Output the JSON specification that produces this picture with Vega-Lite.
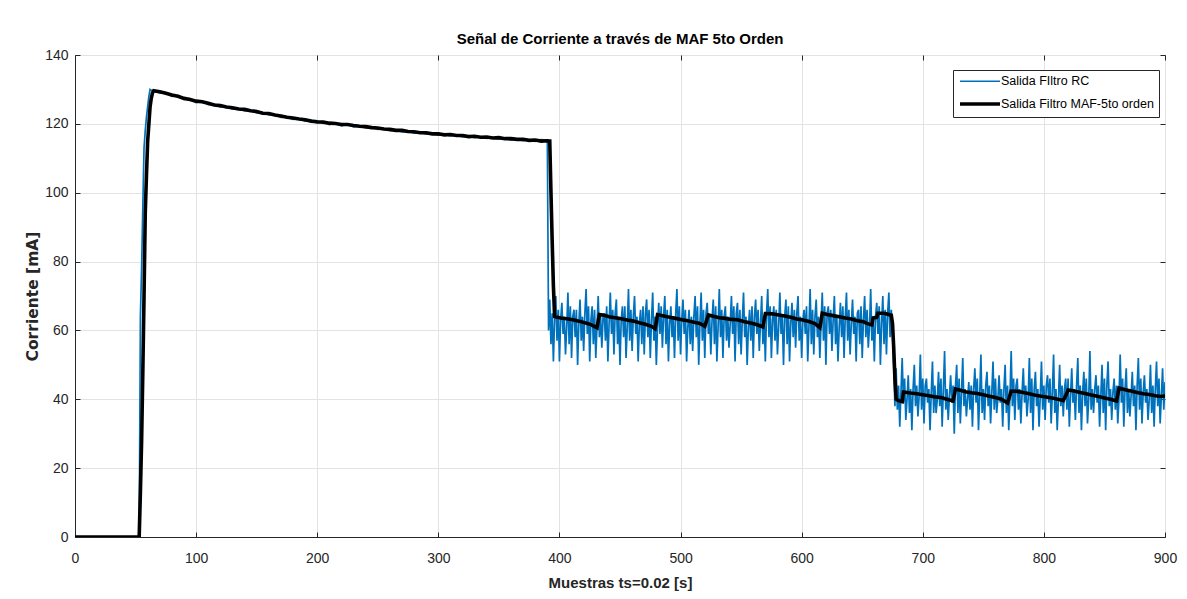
{
"$schema": "https://vega.github.io/schema/vega-lite/v6.json",
"width": 1090, "height": 482,
"autosize": {"type": "none"},
"padding": {"left": 75, "top": 55, "right": 22, "bottom": 62},
"background": "white",
"title": {"text": "Señal de Corriente a través de MAF 5to Orden", "font": "Liberation Sans, sans-serif", "fontSize": 15, "fontWeight": "bold", "color": "#000000", "anchor": "middle", "frame": "group", "offset": 1},
"config": {"view": {"stroke": "#262626", "strokeWidth": 1}},
"resolve": {"axis": {"x": "independent", "y": "independent"}},
"data": {"values": [
{"x":0,"r":0,"m":0},{"x":53,"r":0,"m":0},{"x":54,"r":64,"m":13},{"x":55,"r":78,"m":28},{"x":56,"r":96,"m":48},{"x":57,"r":113,"m":70},{"x":58,"r":118,"m":94},{"x":59,"r":122,"m":105},{"x":60,"r":125,"m":115},{"x":61,"r":128,"m":120},{"x":62,"r":130,"m":125},{"x":63,"r":129.8,"m":127.5},{"x":64,"r":129.6,"m":129},{"x":65,"r":129.5,"m":129.6},
{"x":70,"r":129.0,"m":129.3},{"x":75,"r":129.1,"m":128.9},{"x":80,"r":128.0,"m":128.4},{"x":85,"r":128.2,"m":128.0},{"x":90,"r":127.1,"m":127.4},{"x":95,"r":127.3,"m":127.1},{"x":100,"r":126.2,"m":126.6},{"x":105,"r":126.5,"m":126.4},{"x":110,"r":125.6,"m":126.0},{"x":115,"r":125.7,"m":125.5},{"x":120,"r":124.9,"m":125.3},{"x":125,"r":125.0,"m":124.9},{"x":130,"r":124.3,"m":124.7},{"x":135,"r":124.5,"m":124.3},{"x":140,"r":123.8,"m":124.2},{"x":145,"r":123.9,"m":123.8},{"x":150,"r":123.2,"m":123.6},{"x":155,"r":123.3,"m":123.1},{"x":160,"r":122.6,"m":123.0},{"x":165,"r":122.7,"m":122.6},{"x":170,"r":121.9,"m":122.3},{"x":175,"r":122.0,"m":121.9},{"x":180,"r":121.3,"m":121.7},{"x":185,"r":121.5,"m":121.4},{"x":190,"r":120.8,"m":121.2},{"x":195,"r":121.0,"m":120.8},{"x":200,"r":120.2,"m":120.6},{"x":205,"r":120.6,"m":120.5},{"x":210,"r":119.8,"m":120.2},{"x":215,"r":120.2,"m":120.1},{"x":220,"r":119.4,"m":119.8},{"x":225,"r":119.9,"m":119.8},{"x":230,"r":119.1,"m":119.5},{"x":235,"r":119.4,"m":119.3},{"x":240,"r":118.8,"m":119.2},{"x":245,"r":119.0,"m":118.9},{"x":250,"r":118.4,"m":118.8},{"x":255,"r":118.6,"m":118.5},{"x":260,"r":118.0,"m":118.4},{"x":265,"r":118.2,"m":118.1},{"x":270,"r":117.7,"m":118.1},{"x":275,"r":117.9,"m":117.8},{"x":280,"r":117.3,"m":117.7},{"x":285,"r":117.5,"m":117.4},{"x":290,"r":117.0,"m":117.4},{"x":295,"r":117.2,"m":117.1},{"x":300,"r":116.7,"m":117.1},{"x":305,"r":116.9,"m":116.8},{"x":310,"r":116.5,"m":116.9},{"x":315,"r":116.7,"m":116.6},{"x":320,"r":116.2,"m":116.6},{"x":325,"r":116.4,"m":116.3},{"x":330,"r":116.0,"m":116.4},{"x":335,"r":116.2,"m":116.1},{"x":340,"r":115.8,"m":116.2},{"x":345,"r":116.0,"m":115.9},{"x":350,"r":115.6,"m":116.0},{"x":355,"r":115.8,"m":115.7},{"x":360,"r":115.3,"m":115.7},{"x":365,"r":115.6,"m":115.5},{"x":370,"r":115.1,"m":115.5},{"x":375,"r":115.3,"m":115.2},{"x":380,"r":114.9,"m":115.3},{"x":385,"r":115.4,"m":115.0},{"x":390,"r":115.2,"m":115.1},
{"x":391,"r":60,"m":115.0},{"x":392,"r":69,"m":115},{"x":393,"r":56,"m":100},{"x":394,"r":65,"m":86},{"x":395,"r":51,"m":73},{"x":396,"r":63,"m":64},
{"x":397,"r":70},{"x":398,"r":57},{"x":399,"r":66},{"x":400,"r":51},{"x":401,"r":63,"m":63.6},
{"x":402,"r":68},{"x":403,"r":59},{"x":404,"r":64},{"x":405,"r":53},{"x":406,"r":61,"m":63.4},
{"x":407,"r":71},{"x":408,"r":56},{"x":409,"r":67},{"x":410,"r":52},{"x":411,"r":64,"m":63.1},
{"x":412,"r":66},{"x":413,"r":58},{"x":414,"r":66},{"x":415,"r":50},{"x":416,"r":62,"m":62.7},
{"x":417,"r":69},{"x":418,"r":57},{"x":419,"r":64},{"x":420,"r":54},{"x":421,"r":65,"m":62.2},
{"x":422,"r":72},{"x":423,"r":59},{"x":424,"r":67},{"x":425,"r":51},{"x":426,"r":63,"m":61.7},
{"x":427,"r":67},{"x":428,"r":56},{"x":429,"r":66},{"x":430,"r":52},{"x":431,"r":61,"m":60.8},
{"x":432,"r":70},{"x":433,"r":58,"m":64.6},{"x":434,"r":64},{"x":435,"r":55},{"x":436,"r":64},
{"x":437,"r":65,"m":64.4},{"x":438,"r":57},{"x":439,"r":67},{"x":440,"r":51},{"x":441,"r":62,"m":64.0},
{"x":442,"r":71},{"x":443,"r":59},{"x":444,"r":66},{"x":445,"r":53},{"x":446,"r":65,"m":63.7},
{"x":447,"r":69},{"x":448,"r":56},{"x":449,"r":64},{"x":450,"r":50},{"x":451,"r":63,"m":63.4},
{"x":452,"r":67},{"x":453,"r":58},{"x":454,"r":67},{"x":455,"r":52},{"x":456,"r":61,"m":63.0},
{"x":457,"r":72},{"x":458,"r":57},{"x":459,"r":66},{"x":460,"r":54},{"x":461,"r":64,"m":62.7},
{"x":462,"r":70},{"x":463,"r":59},{"x":464,"r":64},{"x":465,"r":51},{"x":466,"r":62,"m":62.2},
{"x":467,"r":66},{"x":468,"r":56},{"x":469,"r":67},{"x":470,"r":53},{"x":471,"r":65,"m":61.8},
{"x":472,"r":69},{"x":473,"r":58},{"x":474,"r":66},{"x":475,"r":52},{"x":476,"r":63,"m":61.2},
{"x":477,"r":71},{"x":478,"r":57},{"x":479,"r":64,"m":60.5},{"x":480,"r":50},{"x":481,"r":61,"m":64.6},
{"x":482,"r":68},{"x":483,"r":59},{"x":484,"r":67},{"x":485,"r":55},{"x":486,"r":64,"m":64.2},
{"x":487,"r":70},{"x":488,"r":56},{"x":489,"r":66},{"x":490,"r":51},{"x":491,"r":62,"m":63.8},
{"x":492,"r":67},{"x":493,"r":58},{"x":494,"r":64},{"x":495,"r":52},{"x":496,"r":65,"m":63.5},
{"x":497,"r":72},{"x":498,"r":57},{"x":499,"r":67},{"x":500,"r":53},{"x":501,"r":63,"m":63.1},
{"x":502,"r":69},{"x":503,"r":59},{"x":504,"r":66},{"x":505,"r":51},{"x":506,"r":61,"m":62.8},
{"x":507,"r":66},{"x":508,"r":56},{"x":509,"r":64},{"x":510,"r":54},{"x":511,"r":64,"m":62.4},
{"x":512,"r":70},{"x":513,"r":58},{"x":514,"r":67},{"x":515,"r":50},{"x":516,"r":62,"m":62.0},
{"x":517,"r":71},{"x":518,"r":57},{"x":519,"r":66},{"x":520,"r":52,"m":61.2},{"x":521,"r":65},
{"x":522,"r":68},{"x":523,"r":59,"m":64.5},{"x":524,"r":64},{"x":525,"r":53},{"x":526,"r":63},
{"x":527,"r":69,"m":64.1},{"x":528,"r":56},{"x":529,"r":67},{"x":530,"r":51},{"x":531,"r":61},
{"x":532,"r":72,"m":63.7},{"x":533,"r":58},{"x":534,"r":66},{"x":535,"r":52},{"x":536,"r":64},
{"x":537,"r":67,"m":63.5},{"x":538,"r":57},{"x":539,"r":64},{"x":540,"r":55},{"x":541,"r":62},
{"x":542,"r":70,"m":63.2},{"x":543,"r":59},{"x":544,"r":67},{"x":545,"r":51},{"x":546,"r":65},
{"x":547,"r":68,"m":63.1},{"x":548,"r":56},{"x":549,"r":66},{"x":550,"r":53},{"x":551,"r":63},
{"x":552,"r":71,"m":62.6},{"x":553,"r":58},{"x":554,"r":64},{"x":555,"r":50},{"x":556,"r":61},
{"x":557,"r":66,"m":62.2},{"x":558,"r":57},{"x":559,"r":67},{"x":560,"r":52},{"x":561,"r":64},
{"x":562,"r":69,"m":61.8},{"x":563,"r":59},{"x":564,"r":66},{"x":565,"r":54},{"x":566,"r":62,"m":61.3},
{"x":567,"r":70},{"x":568,"r":56,"m":61.0},{"x":569,"r":64},{"x":570,"r":51,"m":64.9},{"x":571,"r":65},
{"x":572,"r":72},{"x":573,"r":58},{"x":574,"r":67},{"x":575,"r":52},{"x":576,"r":63,"m":64.8},
{"x":577,"r":67},{"x":578,"r":57},{"x":579,"r":66},{"x":580,"r":53},{"x":581,"r":61,"m":64.5},
{"x":582,"r":71},{"x":583,"r":59},{"x":584,"r":64},{"x":585,"r":50},{"x":586,"r":64,"m":64.2},
{"x":587,"r":69},{"x":588,"r":56},{"x":589,"r":67},{"x":590,"r":51},{"x":591,"r":62,"m":63.8},
{"x":592,"r":68},{"x":593,"r":58},{"x":594,"r":66},{"x":595,"r":55},{"x":596,"r":65,"m":63.3},
{"x":597,"r":70},{"x":598,"r":57},{"x":599,"r":64},{"x":600,"r":52},{"x":601,"r":63,"m":63.0},
{"x":602,"r":66},{"x":603,"r":59},{"x":604,"r":67},{"x":605,"r":51},{"x":606,"r":61,"m":62.6},
{"x":607,"r":72},{"x":608,"r":56},{"x":609,"r":66},{"x":610,"r":53},{"x":611,"r":64,"m":62.0},
{"x":612,"r":69},{"x":613,"r":58},{"x":614,"r":64},{"x":615,"r":52,"m":60.8},{"x":616,"r":62},
{"x":617,"r":71,"m":65.0},{"x":618,"r":57},{"x":619,"r":67},{"x":620,"r":50},{"x":621,"r":65,"m":64.6},
{"x":622,"r":67},{"x":623,"r":59},{"x":624,"r":66},{"x":625,"r":54},{"x":626,"r":63,"m":64.3},
{"x":627,"r":70},{"x":628,"r":56},{"x":629,"r":64},{"x":630,"r":51},{"x":631,"r":61,"m":64.0},
{"x":632,"r":68},{"x":633,"r":58},{"x":634,"r":67},{"x":635,"r":52},{"x":636,"r":64,"m":63.6},
{"x":637,"r":71},{"x":638,"r":57},{"x":639,"r":66},{"x":640,"r":53},{"x":641,"r":62,"m":63.3},
{"x":642,"r":69},{"x":643,"r":59},{"x":644,"r":64},{"x":645,"r":51},{"x":646,"r":65,"m":62.8},
{"x":647,"r":66},{"x":648,"r":56},{"x":649,"r":67},{"x":650,"r":52},{"x":651,"r":63,"m":62.5},
{"x":652,"r":70},{"x":653,"r":58},{"x":654,"r":66},{"x":655,"r":55,"m":61.9},{"x":656,"r":61},
{"x":657,"r":72},{"x":658,"r":57,"m":61.6},{"x":659,"r":64,"m":63.6},{"x":660,"r":51},{"x":661,"r":64},
{"x":662,"r":68,"m":63.8},{"x":663,"r":59,"m":65.0},{"x":664,"r":67},{"x":665,"r":50},{"x":666,"r":62},
{"x":667,"r":70},{"x":668,"r":56,"m":65.0},{"x":669,"r":66},{"x":670,"r":53},{"x":671,"r":65},
{"x":672,"r":71,"m":64.6},{"x":673,"r":58},{"x":674,"r":66,"m":64.4},{"x":675,"r":60,"m":62.0},{"x":676,"r":50,"m":55},{"x":677,"r":38,"m":46},
{"x":678,"r":49,"m":40},{"x":679,"r":37},{"x":680,"r":44,"m":39.6},{"x":681,"r":32},{"x":682,"r":42},
{"x":683,"r":52,"m":39.3},{"x":684,"r":39,"m":42.1},{"x":685,"r":46},{"x":686,"r":34},{"x":687,"r":40},
{"x":688,"r":47},{"x":689,"r":36},{"x":690,"r":43,"m":41.8},{"x":691,"r":31},{"x":692,"r":43},
{"x":693,"r":50},{"x":694,"r":38},{"x":695,"r":44,"m":41.6},{"x":696,"r":35},{"x":697,"r":41},
{"x":698,"r":53},{"x":699,"r":37},{"x":700,"r":46,"m":41.3},{"x":701,"r":33},{"x":702,"r":44},
{"x":703,"r":46},{"x":704,"r":39},{"x":705,"r":43,"m":41.0},{"x":706,"r":31},{"x":707,"r":42},
{"x":708,"r":51},{"x":709,"r":36},{"x":710,"r":44,"m":40.7},{"x":711,"r":36},{"x":712,"r":40},
{"x":713,"r":48},{"x":714,"r":38},{"x":715,"r":46,"m":40.5},{"x":716,"r":32},{"x":717,"r":43},
{"x":718,"r":54},{"x":719,"r":37},{"x":720,"r":43,"m":40.0},{"x":721,"r":34},{"x":722,"r":41},
{"x":723,"r":47},{"x":724,"r":39},{"x":725,"r":44,"m":39.5},{"x":726,"r":30},{"x":727,"r":44,"m":43.0},
{"x":728,"r":50},{"x":729,"r":36},{"x":730,"r":46},{"x":731,"r":33,"m":42.6},{"x":732,"r":42},
{"x":733,"r":52},{"x":734,"r":38},{"x":735,"r":43,"m":42.2},{"x":736,"r":35},{"x":737,"r":40},
{"x":738,"r":45},{"x":739,"r":37},{"x":740,"r":44,"m":41.9},{"x":741,"r":32},{"x":742,"r":43},
{"x":743,"r":49},{"x":744,"r":39},{"x":745,"r":46,"m":41.7},{"x":746,"r":31},{"x":747,"r":41},
{"x":748,"r":53},{"x":749,"r":36},{"x":750,"r":43,"m":41.3},{"x":751,"r":34},{"x":752,"r":44},
{"x":753,"r":48},{"x":754,"r":38},{"x":755,"r":44,"m":40.9},{"x":756,"r":33},{"x":757,"r":42},
{"x":758,"r":51},{"x":759,"r":37},{"x":760,"r":46,"m":40.5},{"x":761,"r":36},{"x":762,"r":40},
{"x":763,"r":47},{"x":764,"r":39},{"x":765,"r":43,"m":40.0},{"x":766,"r":32},{"x":767,"r":43},
{"x":768,"r":50},{"x":769,"r":36},{"x":770,"r":44,"m":38.9},{"x":771,"r":31},{"x":772,"r":41},
{"x":773,"r":54,"m":42.4},{"x":774,"r":38},{"x":775,"r":46},{"x":776,"r":34},{"x":777,"r":44},
{"x":778,"r":46,"m":42.3},{"x":779,"r":37},{"x":780,"r":43},{"x":781,"r":33},{"x":782,"r":42},
{"x":783,"r":49,"m":42.0},{"x":784,"r":39},{"x":785,"r":44},{"x":786,"r":35},{"x":787,"r":40},
{"x":788,"r":52,"m":41.6},{"x":789,"r":36},{"x":790,"r":46},{"x":791,"r":31},{"x":792,"r":43},
{"x":793,"r":48,"m":41.2},{"x":794,"r":38},{"x":795,"r":43},{"x":796,"r":32},{"x":797,"r":41},
{"x":798,"r":51,"m":40.9},{"x":799,"r":37},{"x":800,"r":44},{"x":801,"r":34},{"x":802,"r":44},
{"x":803,"r":47,"m":40.6},{"x":804,"r":39},{"x":805,"r":46},{"x":806,"r":33},{"x":807,"r":42},
{"x":808,"r":53,"m":40.3},{"x":809,"r":36},{"x":810,"r":43},{"x":811,"r":31},{"x":812,"r":40},
{"x":813,"r":50,"m":39.9},{"x":814,"r":38},{"x":815,"r":44},{"x":816,"r":35,"m":39.6},{"x":817,"r":43},
{"x":818,"r":46,"m":41.0},{"x":819,"r":37},{"x":820,"r":46,"m":42.7},{"x":821,"r":32},{"x":822,"r":41},
{"x":823,"r":49},{"x":824,"r":39},{"x":825,"r":43,"m":42.4},{"x":826,"r":34},{"x":827,"r":44},
{"x":828,"r":52},{"x":829,"r":36},{"x":830,"r":44,"m":42.0},{"x":831,"r":31},{"x":832,"r":42},
{"x":833,"r":48},{"x":834,"r":38},{"x":835,"r":46,"m":41.6},{"x":836,"r":33},{"x":837,"r":40},
{"x":838,"r":54},{"x":839,"r":37},{"x":840,"r":43,"m":41.2},{"x":841,"r":36},{"x":842,"r":43},
{"x":843,"r":47},{"x":844,"r":39},{"x":845,"r":44,"m":40.8},{"x":846,"r":32},{"x":847,"r":41},
{"x":848,"r":50},{"x":849,"r":36},{"x":850,"r":46,"m":40.4},{"x":851,"r":31},{"x":852,"r":44},
{"x":853,"r":51},{"x":854,"r":38},{"x":855,"r":43,"m":40.0},{"x":856,"r":34},{"x":857,"r":42},
{"x":858,"r":46},{"x":859,"r":37},{"x":860,"r":44,"m":39.5},{"x":861,"r":33},{"x":862,"r":40,"m":43.3},
{"x":863,"r":53},{"x":864,"r":39},{"x":865,"r":46},{"x":866,"r":32},{"x":867,"r":43,"m":42.8},
{"x":868,"r":49},{"x":869,"r":36},{"x":870,"r":43},{"x":871,"r":35},{"x":872,"r":41,"m":42.4},
{"x":873,"r":48},{"x":874,"r":38},{"x":875,"r":44},{"x":876,"r":31},{"x":877,"r":44,"m":42.0},
{"x":878,"r":52},{"x":879,"r":37},{"x":880,"r":46},{"x":881,"r":33},{"x":882,"r":42,"m":41.6},
{"x":883,"r":47},{"x":884,"r":39},{"x":885,"r":43},{"x":886,"r":34},{"x":887,"r":40,"m":41.4},
{"x":888,"r":50},{"x":889,"r":36},{"x":890,"r":44},{"x":891,"r":32},{"x":892,"r":43,"m":41.0},
{"x":893,"r":51},{"x":894,"r":38},{"x":895,"r":46},{"x":896,"r":33},{"x":897,"r":41,"m":40.8},
{"x":898,"r":49},{"x":899,"r":37},{"x":900,"r":45,"m":41.0}
]},
"layer": [
  {"mark": {"type": "line", "clip": true, "invalid": "filter"},
   "encoding": {
     "x": {"field": "x", "type": "quantitative", "scale": {"domain": [0, 900], "nice": false},
       "axis": {"orient": "bottom", "values": [0,100,200,300,400,500,600,700,800,900], "title": "Muestras ts=0.02 [s]",
         "titleFont": "Liberation Sans, sans-serif", "titleFontSize": 15, "titleFontWeight": "bold", "titleColor": "#262626", "titleY": 45, "titleBaseline": "middle",
         "labelFont": "Liberation Sans, sans-serif", "labelFontSize": 14, "labelColor": "#262626", "labelFlush": false, "labelOverlap": false,
         "tickSize": -5, "tickColor": "#262626", "labelPadding": 19, "domainColor": "#262626",
         "grid": true, "gridColor": "#e3e3e3"}},
     "y": {"field": "r", "type": "quantitative", "scale": {"domain": [0, 140], "nice": false},
       "axis": {"orient": "left", "values": [0,20,40,60,80,100,120,140], "title": "Corriente [mA]",
         "titleFont": "DejaVu Sans", "titleFontSize": 15.5, "titleFontWeight": "bold", "titleColor": "#262626",
         "titleX": -43, "titleY": 241, "titleBaseline": "middle", "titleAlign": "center", "titleAngle": 270,
         "labelFont": "Liberation Sans, sans-serif", "labelFontSize": 14, "labelColor": "#262626", "labelOverlap": false,
         "tickSize": -5, "tickColor": "#262626", "labelPadding": 12, "domainColor": "#262626",
         "grid": true, "gridColor": "#e3e3e3"}},
     "color": {"datum": "Salida FIltro RC", "type": "nominal",
       "scale": {"domain": ["Salida FIltro RC", "Salida Filtro MAF-5to orden"], "range": ["#0072BD", "#000000"]},
       "legend": {"orient": "none", "legendX": 878, "legendY": 15, "title": null, "symbolType": "M-1,0H7", "symbolSize": 100,
         "labelFont": "Liberation Sans, sans-serif", "labelFontSize": 12.5, "labelColor": "#000000", "labelLimit": 400,
         "strokeColor": "#262626", "fillColor": "#ffffff", "padding": 5, "labelOffset": 29, "rowPadding": 8}},
     "strokeWidth": {"datum": "Salida FIltro RC", "type": "nominal",
       "scale": {"domain": ["Salida FIltro RC", "Salida Filtro MAF-5to orden"], "range": [1.7, 3.6]}}
   }},
  {"mark": {"type": "line", "clip": true, "invalid": "filter"},
   "encoding": {
     "x": {"field": "x", "type": "quantitative",
       "axis": {"orient": "top", "values": [0,100,200,300,400,500,600,700,800,900], "labels": false, "title": null,
         "tickSize": -5, "tickColor": "#262626", "domain": false, "grid": false}},
     "y": {"field": "m", "type": "quantitative",
       "axis": {"orient": "right", "values": [0,20,40,60,80,100,120,140], "labels": false, "title": null,
         "tickSize": -5, "tickColor": "#262626", "domain": false, "grid": false}},
     "color": {"datum": "Salida Filtro MAF-5to orden", "type": "nominal"},
     "strokeWidth": {"datum": "Salida Filtro MAF-5to orden", "type": "nominal"}
   }}
]
}
